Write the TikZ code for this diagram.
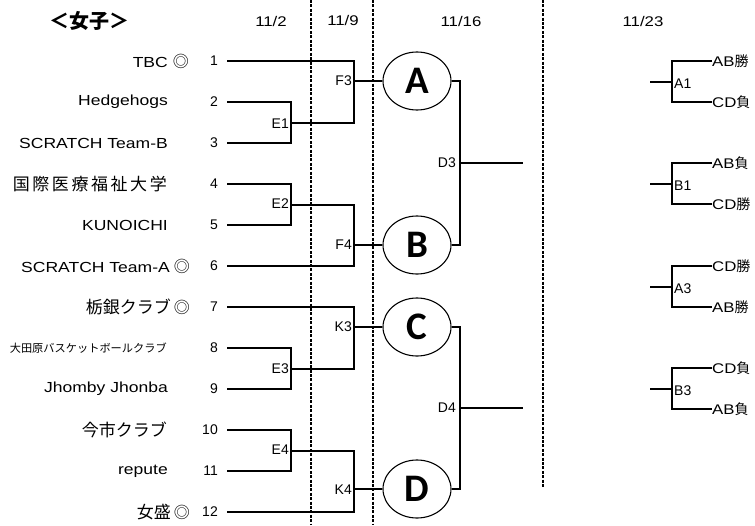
\documentclass[tikz,border=0pt]{standalone}
\usepackage{fontspec}
\setmainfont{Liberation Sans}
\newfontfamily\jp{Noto Sans CJK JP}
\newfontfamily\lat[FakeStretch=1.2]{Liberation Sans}
\newfontfamily\circfont{Carlito}
\usetikzlibrary{shapes.geometric}
\tikzset{
  bl/.style={line width=2pt},
  rb/.style={line width=2pt},
  dsh/.style={line width=1.6pt, dash pattern=on 3pt off 1.4pt},
  tname/.style={anchor=east, inner sep=0pt, font=\lat\fontsize{14.6}{16}\selectfont},
  jname/.style={anchor=east, inner sep=0pt, font=\jp\fontsize{17}{19}\selectfont},
  num/.style={anchor=east, inner sep=0pt, font=\fontsize{14}{15}\selectfont},
  lab/.style={anchor=east, inner sep=0pt, font=\fontsize{14}{15}\selectfont},
  rlab/.style={anchor=west, inner sep=0pt, font=\lat\fontsize{14}{15}\selectfont},
  date/.style={inner sep=0pt, font=\lat\fontsize{14}{15}\selectfont},
  circ/.style={ellipse, draw, line width=1.1pt, minimum width=68pt, minimum height=58pt,
    inner sep=0pt, font=\circfont\bfseries\fontsize{39}{42}\selectfont},
}
\newcommand{\dmark}{{\jp\fontsize{16}{16}\selectfont ◎}}
\begin{document}
\begin{tikzpicture}[x=1pt,y=-1pt]
\useasboundingbox (0,0) rectangle (755,525);
% title and dates
\node[inner sep=0pt, font=\jp\bfseries\fontsize{20}{22}\selectfont] (title) at (89,21) {＜女子＞};
\node[date] (d1) at (271,21) {11/2};
\node[date] (d2) at (343,20) {11/9};
\node[date] (d3) at (461,21) {11/16};
\node[date] (d4) at (643,21) {11/23};
% dashed separators
\coordinate (v1t) at (311,0); \coordinate (v1b) at (311,525);
\coordinate (v2t) at (373,0); \coordinate (v2b) at (373,525);
\coordinate (v3t) at (543,0); \coordinate (v3b) at (543,488);
\draw[dsh] (v1t) -- (v1b);
\draw[dsh] (v2t) -- (v2b);
\draw[dsh] (v3t) -- (v3b);
% team names
\node[tname] (t1) at (189,61) {TBC\hspace{5pt}\dmark};
\node[tname] (t2) at (168,102) {Hedgehogs};
\node[tname] (t3) at (168,143) {SCRATCH Team-B};
\node[jname] (t4) at (167,184) {\makebox[154pt][s]{国\hfil 際\hfil 医\hfil 療\hfil 福\hfil 祉\hfil 大\hfil 学}};
\node[tname] (t5) at (168,225) {KUNOICHI};
\node[tname] (t6) at (190,266) {SCRATCH Team-A\hspace{4pt}\dmark};
\node[jname] (t7) at (190,307) {栃銀クラブ\hspace{3pt}\dmark};
\node[jname, font=\jp\fontsize{11.2}{13}\selectfont] (t8) at (167,348) {\makebox[157pt][s]{大\hfil 田\hfil 原\hfil バ\hfil ス\hfil ケ\hfil ッ\hfil ト\hfil ボ\hfil ー\hfil ル\hfil ク\hfil ラ\hfil ブ}};
\node[tname] (t9) at (168,389) {Jhomby Jhonba};
\node[jname] (t10) at (167,430) {今市クラブ};
\node[tname] (t11) at (168,471) {repute};
\node[jname] (t12) at (190,512) {女盛\hspace{3pt}\dmark};
% numbers and line starts
\foreach \i in {1,...,12}{
  \pgfmathsetmacro{\yy}{61+41*(\i-1)}
  \node[num] (n\i) at (218,\yy) {\i};
  \coordinate (s\i) at (227,\yy);
}
% junctions
\coordinate (E1) at (291,122.5);
\coordinate (E2) at (291,204.5);
\coordinate (E3) at (291,368.5);
\coordinate (E4) at (291,450.5);
\coordinate (F3) at (354,81);
\coordinate (F4) at (354,245);
\coordinate (K3) at (354,327);
\coordinate (K4) at (354,489);
\coordinate (D3) at (460,163);
\coordinate (D4) at (460,408);
\coordinate (D3e) at (523,163);
\coordinate (D4e) at (523,408);
% circles
\node[circ] (A) at (417,81) {A};
\node[circ] (B) at (417,245) {B};
\node[circ] (C) at (417,327) {C};
\node[circ] (D) at (417,489) {D};
% first round
\draw[bl] (s2) -| (E1) |- (s3);
\draw[bl] (s4) -| (E2) |- (s5);
\draw[bl] (s8) -| (E3) |- (s9);
\draw[bl] (s10) -| (E4) |- (s11);
% second round
\draw[bl] (s1) -| (F3) |- (E1);
\draw[bl] (E2) -| (F4) |- (s6);
\draw[bl] (s7) -| (K3) |- (E3);
\draw[bl] (E4) -| (K4) |- (s12);
\draw[bl] (F3) -- (A.west);
\draw[bl] (F4) -- (B.west);
\draw[bl] (K3) -- (C.west);
\draw[bl] (K4) -- (D.west);
% third round
\draw[bl] (A.east) -| (D3) |- (B.east);
\draw[bl] (C.east) -| (D4) |- (D.east);
\draw[bl] (D3) -- (D3e);
\draw[bl] (D4) -- (D4e);
% labels
\node[lab] (lE1) at (289,124) {E1};
\node[lab] (lE2) at (289,204) {E2};
\node[lab] (lE3) at (289,369) {E3};
\node[lab] (lE4) at (289,450) {E4};
\node[lab] (lF3) at (352,81) {F3};
\node[lab] (lF4) at (352,245) {F4};
\node[lab] (lK3) at (352,327) {K3};
\node[lab] (lK4) at (352,490) {K4};
\node[lab] (lD3) at (456,163) {D3};
\node[lab] (lD4) at (456,408) {D4};
% right side brackets
\foreach \nm/\yt/\tl/\tk/\bl/\bk in {A1/61/AB/勝/CD/負, B1/163/AB/負/CD/勝, A3/266/CD/勝/AB/勝, B3/368/CD/負/AB/負}{
  \pgfmathsetmacro{\ym}{\yt+20.5}
  \pgfmathsetmacro{\yb}{\yt+41}
  \coordinate (j\nm) at (672,\ym);
  \coordinate (st\nm) at (650,\ym);
  \node[rlab] (top\nm) at (712,\yt) {\tl{\jp\fontsize{14}{15}\selectfont\tk}};
  \node[rlab] (bot\nm) at (712,\yb) {\bl{\jp\fontsize{14}{15}\selectfont\bk}};
  \node[rlab, font=\fontsize{14}{15}\selectfont] (l\nm) at (674,\ym+2.5) {\nm};
  \draw[rb] (st\nm) -- (j\nm);
  \draw[rb] (top\nm.west) -| (j\nm) |- (bot\nm.west);
}
\end{tikzpicture}
\end{document}
